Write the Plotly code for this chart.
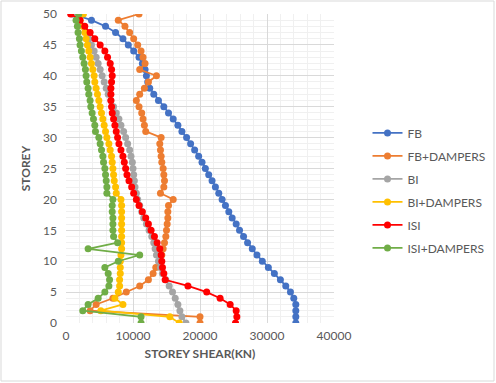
import plotly.graph_objects as go

storeys = list(range(0, 51))

fb = [34300, 34300, 34300, 34300, 34000, 33500, 32800, 32000, 31100, 30200,
      29300, 28500, 27800, 27100, 26500, 25900, 25400, 24800, 24300, 23800,
      23300, 22800, 22300, 21800, 21300, 20800, 20300, 19800, 19200, 18600,
      18000, 17300, 16700, 16000, 15300, 14600, 13800, 13100, 12500, 12200,
      12000, 11800, 11400, 10900, 10100, 9300, 8500, 7400, 5900, 3800, 1000]

fb_dampers = [20000, 20000, 3600, 4500, 7000, 9000, 11000, 12300, 13000, 13400,
              14000, 14300, 14500, 14700, 14900, 15000, 15100, 15200, 15200, 15300,
              16000, 14100, 14600, 14700, 14600, 14500, 14300, 14200, 14100, 14000,
              14200, 11900, 11700, 11500, 11300, 10900, 10500, 11000, 11700, 12300,
              13500, 11000, 11800, 11500, 11200, 10700, 10100, 9500, 8800, 7800, 10900]

bi = [17900, 17300, 17000, 16700, 16300, 15900, 15400, 14900, 14400, 14100,
      13800, 13500, 13300, 13100, 12800, 12400, 12000, 11600, 11300, 11000,
      10700, 10500, 10300, 10200, 10100, 10000, 9900, 9700, 9500, 9200,
      8900, 8600, 8200, 7900, 7500, 7100, 6700, 6300, 6000, 5700,
      5400, 5100, 4800, 4500, 4200, 3800, 3400, 3000, 2600, 2000, 1400]

bi_dampers = [16900, 15500, 5200, 8500, 7300, 7800, 8000, 8000, 8100, 8100,
              8100, 8200, 8300, 8300, 8300, 8300, 8300, 8300, 8300, 8300,
              8200, 7500, 7400, 7200, 7100, 7000, 6900, 6800, 6600, 6400,
              6100, 5900, 5700, 5500, 5300, 5100, 4900, 4700, 4500, 4300,
              4200, 4000, 3800, 3600, 3400, 3200, 3000, 2800, 2500, 2100, 2600]

isi = [25300, 25500, 25400, 24500, 23000, 21000, 18200, 14800, 14600, 14400,
       14300, 14200, 14000, 13600, 13200, 12700, 12300, 11900, 11400, 10900,
       10500, 10100, 9800, 9400, 9100, 8900, 8700, 8500, 8200, 7900,
       7700, 7500, 7300, 7100, 6900, 6800, 6700, 6700, 6700, 6800,
       6900, 6800, 6600, 6200, 5800, 5100, 4300, 3600, 2800, 2100, 700]

isi_dampers = [11200, 11200, 2500, 3300, 4800, 5800, 6400, 6500, 6300, 5800,
               7800, 11000, 3300, 7700, 7100, 7000, 7000, 7000, 6900, 6900,
               7000, 6100, 6100, 6000, 5900, 5800, 5600, 5500, 5300, 5100,
               4900, 4400, 4300, 4100, 3900, 3700, 3600, 3400, 3300, 3100,
               3000, 2900, 2700, 2500, 2300, 2100, 2000, 1800, 1700, 1500, 1900]

series = [
    ("FB", fb, "#4472C4"),
    ("FB+DAMPERS", fb_dampers, "#ED7D31"),
    ("BI", bi, "#A5A5A5"),
    ("BI+DAMPERS", bi_dampers, "#FFC000"),
    ("ISI", isi, "#FF0000"),
    ("ISI+DAMPERS", isi_dampers, "#70AD47"),
]

x_ticks = [0, 10000, 20000, 30000, 40000]
y_ticks = [0, 5, 10, 15, 20, 25, 30, 35, 40, 45, 50]

fig = go.Figure()
for i, (name, vals, col) in enumerate(series):
    fig.add_trace(go.Scatter(
        x=vals, y=storeys, name=name, mode="lines+markers",
        line=dict(color=col, width=1.75),
        marker=dict(color=col, size=7),
        legendgroup=f"g{i}",
    ))

font_fam = "Lato, 'Open Sans', sans-serif"
fig.update_layout(
    width=496, height=383,
    margin=dict(l=66, r=162, t=14, b=60, autoexpand=False),
    paper_bgcolor="white", plot_bgcolor="white",
    font=dict(family=font_fam, size=12, color="#595959"),
    showlegend=True,
    legend=dict(
        x=1.125, y=0.662, xanchor="left", yanchor="top",
        font=dict(size=12, color="#595959"),
        traceorder="grouped", tracegroupgap=4,
        itemwidth=30,
    ),
    xaxis=dict(
        range=[0, 40000], tickvals=x_ticks, tickformat="d",
        showgrid=True, gridcolor="#D9D9D9", gridwidth=1,
        minor=dict(dtick=2000, showgrid=True, gridcolor="#F0F0F0"),
        zeroline=False, showline=False, ticks="", ticklabelstandoff=4,
        automargin=False,
        title=dict(text="<b>STOREY SHEAR(KN)</b>", standoff=7,
                   font=dict(size=12, color="#595959")),
    ),
    yaxis=dict(
        range=[0, 50], tickvals=y_ticks,
        showgrid=True, gridcolor="#D9D9D9", gridwidth=1,
        minor=dict(dtick=1, showgrid=True, gridcolor="#F0F0F0"),
        zeroline=False, showline=False, ticks="", ticklabelstandoff=8,
        automargin=False,
        title=dict(text="<b>STOREY</b>", standoff=9,
                   font=dict(size=12, color="#595959")),
    ),
    shapes=[dict(type="rect", xref="paper", yref="paper",
                 x0=-65/268, x1=1 + 160/268, y0=-58/309, y1=1 + 13/309,
                 line=dict(color="#D9D9D9", width=1), fillcolor="rgba(0,0,0,0)",
                 layer="below")],
)

fig.write_html("out.html", config={"displayModeBar": False},
               post_script="document.body.style.margin='0';document.body.style.padding='0';")
